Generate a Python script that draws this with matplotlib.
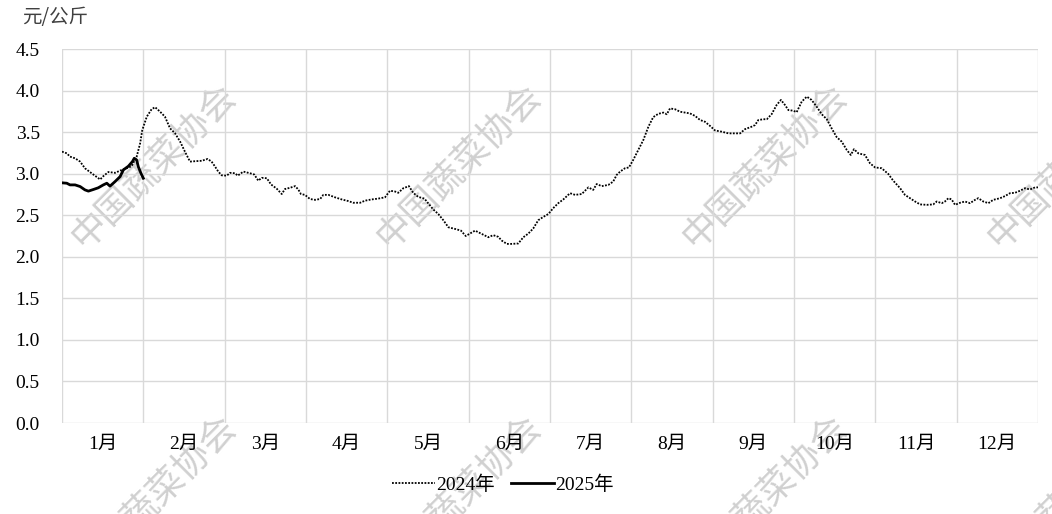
import matplotlib
matplotlib.use('Agg')
import matplotlib.pyplot as plt

plt.rcParams['font.family'] = ['Liberation Serif', 'Noto Sans CJK SC']

# month labels and y ticks
months = ['1月', '2月', '3月', '4月', '5月', '6月', '7月', '8月', '9月', '10月', '11月', '12月']
y_ticks = [0.0, 0.5, 1.0, 1.5, 2.0, 2.5, 3.0, 3.5, 4.0, 4.5]

# 2024 series (day of year, price yuan/kg)
days_2024 = [0, 1.8, 3, 4.9, 6.8, 8.6, 11.1, 14.3, 15.5, 17.4, 19.9, 22.4, 24.3, 26.1, 28, 29.3,
             30.1, 31.8, 33.6, 34.9, 36.8, 38.6, 40.5, 42.4, 44.3, 46.1, 48, 49.9, 52.4, 54.6,
             56.1, 57.4, 58.6, 59.9, 61.8, 63, 64.9, 65.9, 68, 70.5, 72.1, 73.6, 74.9, 76.8,
             78.4, 80.5, 82.4, 83.6, 85.5, 87.4, 88.6, 89.6, 91.1, 93, 94.9, 96.8, 98, 99.9,
             102.4, 104.9, 107.4, 109.2, 111.8, 113.6, 116.1, 118.6, 121.1, 123, 124.9, 126.1,
             128, 130.1, 131.7, 133.6, 135.9, 137.4, 139.2, 141.1, 143, 144.9, 147.4, 149.6,
             151.4, 153, 154.9, 157.4, 159.9, 161.7, 163.6, 164.9, 166.8, 168.6, 171.1, 173,
             174.9, 176.7, 178.6, 180.5, 182.4, 184.2, 186.1, 188, 190.5, 192.4, 194.9, 197.4,
             199.2, 200.5, 202.4, 204.9, 206.7, 208, 209.3, 211.1, 212.6, 214.2, 216.1, 218,
             219.9, 221.7, 223.6, 225.5, 226.8, 228, 229.9, 231.8, 233.6, 235.5, 237.4, 239.3,
             241.1, 243, 244.9, 247.4, 249.9, 252.4, 254.3, 256.1, 258.6, 259.9, 261.1, 263,
             264.3, 266.1, 268, 269.6, 271.1, 272.4, 274.2, 275.5, 277.4, 279.3, 281.1, 283,
             284.9, 286.8, 288.6, 290.5, 292.4, 294.3, 295.8, 297, 298.6, 301.1, 303, 304.9,
             307.4, 309.9, 311.7, 314.3, 316.1, 318, 319.9, 321.8, 324.3, 326.7, 328, 329.9,
             331.1, 332.4, 333.6, 334.9, 336.8, 338.6, 340.5, 342.4, 343.6, 345.5, 347.4, 349.2,
             351.8, 353.6, 355.5, 357.4, 359.3, 361.1, 363, 364.9, 366]
price_2024 = [3.265, 3.245, 3.205, 3.185, 3.145, 3.065, 3.005, 2.93, 2.97, 3.02, 3.01, 3.045,
              3.065, 3.09, 3.205, 3.365, 3.525, 3.686, 3.775, 3.80, 3.745, 3.686, 3.546, 3.486,
              3.385, 3.265, 3.145, 3.15, 3.155, 3.177, 3.145, 3.085, 3.025, 2.98, 2.976, 3.01,
              3.005, 2.976, 3.025, 3.005, 2.99, 2.916, 2.95, 2.945, 2.87, 2.82, 2.755, 2.815,
              2.83, 2.85, 2.81, 2.755, 2.745, 2.695, 2.685, 2.695, 2.745, 2.745, 2.715, 2.69,
              2.67, 2.65, 2.65, 2.675, 2.69, 2.70, 2.715, 2.795, 2.785, 2.77, 2.825, 2.85, 2.77,
              2.72, 2.70, 2.64, 2.57, 2.515, 2.44, 2.355, 2.335, 2.315, 2.25, 2.28, 2.315, 2.275,
              2.235, 2.26, 2.24, 2.195, 2.155, 2.155, 2.16, 2.235, 2.28, 2.34, 2.44, 2.48, 2.515,
              2.585, 2.645, 2.69, 2.765, 2.745, 2.755, 2.835, 2.805, 2.875, 2.85, 2.865, 2.905,
              2.985, 3.025, 3.065, 3.075, 3.165, 3.285, 3.405, 3.565, 3.68, 3.72, 3.735, 3.715,
              3.785, 3.775, 3.745, 3.735, 3.725, 3.695, 3.645, 3.625, 3.575, 3.52, 3.505, 3.485,
              3.485, 3.485, 3.535, 3.565, 3.585, 3.645, 3.655, 3.655, 3.715, 3.827, 3.887, 3.827,
              3.765, 3.758, 3.74, 3.867, 3.927, 3.887, 3.806, 3.715, 3.655, 3.546, 3.44, 3.385,
              3.285, 3.225, 3.295, 3.245, 3.225, 3.125, 3.075, 3.065, 2.995, 2.916, 2.825, 2.745,
              2.705, 2.665, 2.63, 2.625, 2.63, 2.665, 2.645, 2.665, 2.705, 2.69, 2.625, 2.65,
              2.665, 2.645, 2.685, 2.705, 2.665, 2.645, 2.685, 2.705, 2.73, 2.765, 2.77, 2.795,
              2.825, 2.81, 2.835, 2.835]

# 2025 series (January so far)
days_2025 = [0, 1.8, 3, 4.9, 6.8, 8.6, 9.9, 11.8, 13.6, 15.5, 16.8, 18, 19.9, 21.8, 23, 24.9,
             26.4, 27.1, 28, 28.6, 29.6, 30.5]
price_2025 = [2.89, 2.885, 2.865, 2.865, 2.845, 2.805, 2.79, 2.81, 2.83, 2.865, 2.885, 2.85,
              2.905, 2.965, 3.045, 3.09, 3.145, 3.185, 3.165, 3.085, 3.005, 2.945]

W, H = 1052, 514
fig = plt.figure(figsize=(W / 100, H / 100), dpi=100)
ax = fig.add_axes([62 / W, 1 - 423 / H, 976 / W, 374 / H])

n_days = 366
month_len = n_days / 12
bounds = [i * month_len for i in range(13)]
centers = [(i + 0.5) * month_len for i in range(12)]

ax.plot(days_2024, price_2024, color='black', lw=1.3, linestyle=(0, (1, 0.8)),
        label='2024年', zorder=3)
ax.plot(days_2025, price_2025, color='black', lw=2.0, label='2025年', zorder=3)

ax.set_xlim(0, n_days)
ax.set_ylim(0, 4.5)
ax.set_yticks(y_ticks, labels=[f'{v:.1f}' for v in y_ticks])
ax.set_xticks(centers, labels=months)
ax.set_xticks(bounds, minor=True)
ax.grid(axis='y', which='major', color='#d9d9d9', lw=1)
ax.grid(axis='x', which='minor', color='#d9d9d9', lw=1)
ax.tick_params(which='both', length=0, labelsize=14)
ax.tick_params(axis='y', pad=16)
ax.tick_params(axis='x', pad=9)
for s in ax.spines.values():
    s.set_visible(False)

fig.text(22 / W, 1 - 17 / H, '元/公斤', fontsize=14, va='center', ha='left',
         family=['Noto Sans CJK SC'], color='#404040')

# watermarks
for wx in [154, 459, 765, 1070]:
    for wy in [166, 497]:
        ax.text(wx / W, 1 - wy / H, '中国蔬菜协会', transform=fig.transFigure, rotation=45,
                ha='center', va='center', rotation_mode='anchor', fontsize=26,
                family=['Noto Sans CJK SC'], color='#d0d0d0', clip_on=False, zorder=1)

ax.legend(loc='center', bbox_to_anchor=(503 / W, 1 - 485 / H), bbox_transform=fig.transFigure,
          ncol=2, frameon=False, handlelength=2.2, columnspacing=0.8, handletextpad=0.1,
          fontsize=14)

fig.savefig('out.png', dpi=100)
